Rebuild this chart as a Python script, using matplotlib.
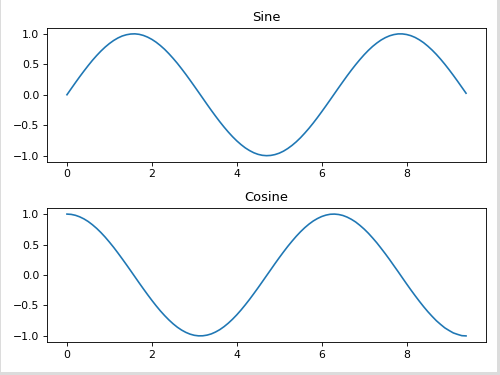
import matplotlib
matplotlib.use("Agg")
import matplotlib.pyplot as plt
from matplotlib.patches import Rectangle

# values, one every 0.1 along x
x = [0.0, 0.1, 0.2, 0.3, 0.4, 0.5, 0.6, 0.7, 0.8, 0.9,
     1.0, 1.1, 1.2, 1.3, 1.4, 1.5, 1.6, 1.7, 1.8, 1.9,
     2.0, 2.1, 2.2, 2.3, 2.4, 2.5, 2.6, 2.7, 2.8, 2.9,
     3.0, 3.1, 3.2, 3.3, 3.4, 3.5, 3.6, 3.7, 3.8, 3.9,
     4.0, 4.1, 4.2, 4.3, 4.4, 4.5, 4.6, 4.7, 4.8, 4.9,
     5.0, 5.1, 5.2, 5.3, 5.4, 5.5, 5.6, 5.7, 5.8, 5.9,
     6.0, 6.1, 6.2, 6.3, 6.4, 6.5, 6.6, 6.7, 6.8, 6.9,
     7.0, 7.1, 7.2, 7.3, 7.4, 7.5, 7.6, 7.7, 7.8, 7.9,
     8.0, 8.1, 8.2, 8.3, 8.4, 8.5, 8.6, 8.7, 8.8, 8.9,
     9.0, 9.1, 9.2, 9.3, 9.4]
sine = [0.000, 0.100, 0.199, 0.296, 0.389, 0.479, 0.565, 0.644, 0.717, 0.783,
        0.841, 0.891, 0.932, 0.964, 0.985, 0.997, 1.000, 0.992, 0.974, 0.946,
        0.909, 0.863, 0.808, 0.746, 0.675, 0.598, 0.516, 0.427, 0.335, 0.239,
        0.141, 0.042, -0.058, -0.158, -0.256, -0.351, -0.443, -0.530, -0.612, -0.688,
        -0.757, -0.818, -0.872, -0.916, -0.952, -0.978, -0.994, -1.000, -0.996, -0.982,
        -0.959, -0.926, -0.883, -0.832, -0.773, -0.706, -0.631, -0.551, -0.465, -0.374,
        -0.279, -0.182, -0.083, 0.017, 0.117, 0.215, 0.312, 0.405, 0.494, 0.578,
        0.657, 0.729, 0.794, 0.850, 0.899, 0.938, 0.968, 0.988, 0.999, 0.999,
        0.989, 0.970, 0.941, 0.902, 0.855, 0.798, 0.734, 0.663, 0.585, 0.501,
        0.412, 0.319, 0.223, 0.124, 0.025]
cosine = [1.000, 0.995, 0.980, 0.955, 0.921, 0.878, 0.825, 0.765, 0.697, 0.622,
          0.540, 0.454, 0.362, 0.267, 0.170, 0.071, -0.029, -0.129, -0.227, -0.323,
          -0.416, -0.505, -0.589, -0.666, -0.737, -0.801, -0.857, -0.904, -0.942, -0.971,
          -0.990, -0.999, -0.998, -0.987, -0.967, -0.936, -0.897, -0.848, -0.791, -0.726,
          -0.654, -0.575, -0.490, -0.401, -0.307, -0.211, -0.112, -0.012, 0.087, 0.187,
          0.284, 0.378, 0.469, 0.554, 0.635, 0.709, 0.776, 0.835, 0.886, 0.927,
          0.960, 0.983, 0.997, 1.000, 0.993, 0.977, 0.950, 0.914, 0.870, 0.815,
          0.754, 0.685, 0.608, 0.527, 0.438, 0.347, 0.252, 0.153, 0.055, -0.046,
          -0.146, -0.244, -0.339, -0.431, -0.519, -0.602, -0.678, -0.750, -0.811, -0.868,
          -0.911, -0.951, -0.975, -0.996, -1.000]

fig, (ax1, ax2) = plt.subplots(2, 1, figsize=(6.4, 4.8), dpi=78.125)

ax1.plot(x, sine, color="#1f77b4")
ax1.set_title("Sine")
ax2.plot(x, cosine, color="#1f77b4")
ax2.set_title("Cosine")

fig.subplots_adjust(left=0.094, right=0.972, top=0.926, bottom=0.088, hspace=0.345)

# light grey screenshot frame
border = "#dcdcdc"
fig.add_artist(Rectangle((0, 0), 0.002, 1, transform=fig.transFigure, color=border, lw=0))
fig.add_artist(Rectangle((0.994, 0), 0.006, 1, transform=fig.transFigure, color=border, lw=0))
fig.add_artist(Rectangle((0, 0), 1, 0.008, transform=fig.transFigure, color=border, lw=0))

plt.savefig("out.png", dpi=78.125)
